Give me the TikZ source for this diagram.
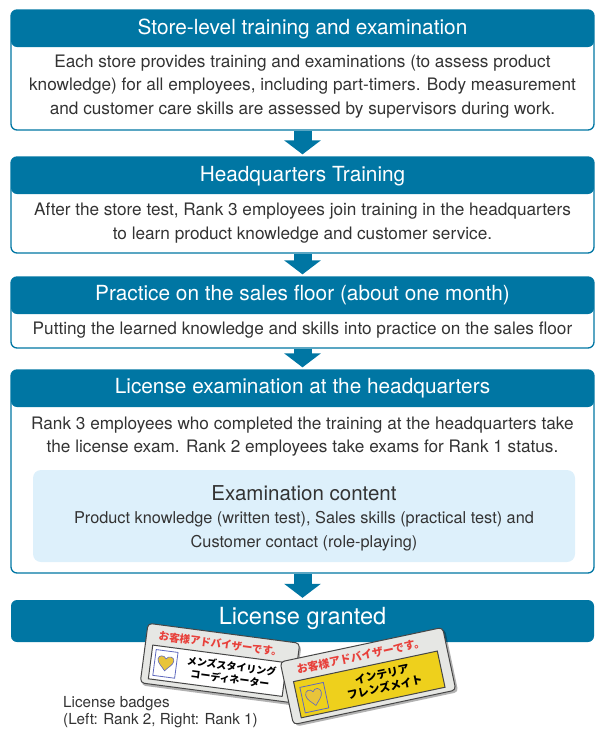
\documentclass[tikz,border=0pt]{standalone}
\usepackage{fontspec}
\setmainfont{TeX Gyre Heros}
\newfontfamily\jpfont{Noto Sans CJK JP}
\usetikzlibrary{arrows.meta}

\definecolor{stepblue}{RGB}{0,118,163}
\definecolor{steptext}{RGB}{51,51,51}
\definecolor{contentbg}{RGB}{221,240,251}
\definecolor{badgegrey}{RGB}{230,231,228}
\definecolor{badgeline}{RGB}{70,70,70}
\definecolor{badgered}{RGB}{232,64,58}
\definecolor{badgeyellow}{RGB}{238,208,28}
\definecolor{heartyellow}{RGB}{232,196,58}
\definecolor{heartblue}{RGB}{95,105,190}

\tikzset{
  stepbox/.style={draw=stepblue, line width=1.3pt, rounded corners=6pt,
    minimum width=583pt, inner sep=0pt,
    path picture={\fill[stepblue] (path picture bounding box.north west)
      rectangle ([yshift=-37pt]path picture bounding box.north east);}},
  steptitle/.style={text=white, font=\fontsize{20.8}{24}\selectfont},
  stepbody/.style={text=steptext, align=center, font=\fontsize{17.2}{23.8}\selectfont},
  contentbox/.style={fill=contentbg, rounded corners=8pt, minimum width=542pt,
    minimum height=92pt, inner sep=0pt},
  flow/.style={line width=18pt, stepblue, -{Triangle[width=36pt,length=14pt]},
    shorten >=2pt},
  badge/.style={fill=badgegrey, draw=badgeline, line width=1pt, rounded corners=4pt},
  badgehead/.style={text=badgered, font=\jpfont\bfseries\fontsize{10.5}{11}\selectfont},
  badgename/.style={text=black, align=center, font=\jpfont\bfseries\fontsize{10}{12.5}\selectfont},
  heart/.style={fill=heartyellow, draw=heartblue, line width=0.6pt}
}

\begin{document}
\begin{tikzpicture}[x=1pt, y=-1pt]
  \useasboundingbox (0,0) rectangle (595,729);

  % step 1
  \node[stepbox, minimum height=120pt] (s1) at (302.5,70) {};
  \node[steptitle] (t1) at (302.5,28.5) {Store-level training and examination};
  \node[stepbody] (d1) at (302.5,86.5) {Each store provides training and examinations (to assess product\\
    knowledge) for all employees, including part-timers. Body measurement\\
    and customer care skills are assessed by supervisors during work.};

  % step 2
  \node[stepbox, minimum height=96pt] (s2) at (302.5,205) {};
  \node[steptitle] (t2) at (302.5,176) {Headquarters Training};
  \node[stepbody] (d2) at (302.5,223) {After the store test, Rank 3 employees join training in the headquarters\\
    to learn product knowledge and customer service.};

  % step 3
  \node[stepbox, minimum height=71pt] (s3) at (302.5,312.5) {};
  \node[steptitle] (t3) at (302.5,295.5) {Practice on the sales floor (about one month)};
  \node[stepbody] (d3) at (302.5,330) {Putting the learned knowledge and skills into practice on the sales floor};

  % step 4
  \node[stepbox, minimum height=203pt] (s4) at (302.5,471.5) {};
  \node[steptitle] (t4) at (302.5,388.5) {License examination at the headquarters};
  \node[stepbody] (d4) at (302.5,436.5) {Rank 3 employees who completed the training at the headquarters take\\
    the license exam. Rank 2 employees take exams for Rank 1 status.};
  \node[contentbox] (c4) at (304,516) {};
  \node[text=steptext, font=\fontsize{20.5}{23}\selectfont] (ct4) at (304,493) {Examination content};
  \node[stepbody, font=\fontsize{16.3}{23.5}\selectfont] (cd4) at (304,531)
    {Product knowledge (written test), Sales skills (practical test) and\\
    Customer contact (role-playing)};

  % result
  \node[fill=stepblue, rounded corners=6pt, minimum width=583pt, minimum height=42pt,
    inner sep=0pt] (s5) at (302.5,621) {};
  \node[text=white, font=\fontsize{23.6}{27}\selectfont] (t5) at (302.5,618) {License granted};

  \draw[flow] (s1.south) -- (s2.north);
  \draw[flow] (s2.south) -- (s3.north);
  \draw[flow] (s3.south) -- (s4.north);
  \draw[flow] (s4.south) -- (s5.north);

  % badges
  \begin{scope}[shift={(220,663)}, rotate=-7.5, transform shape]
    \fill[black, opacity=.3, rounded corners=4pt] (-75,-28) rectangle (78.5,32.5);
    \filldraw[badge] (-76.5,-30) rectangle (76.5,30);
    \node[badgehead] (lb-head) at (-2,-19) {お客様アドバイザーです。};
    \filldraw[fill=white, draw=badgeline, line width=1pt] (-69,-9) rectangle (66,25);
    \draw[heartblue, line width=0.8pt] (-65,-5) rectangle (-43,21);
    \filldraw[heart] (-54,15) .. controls (-57,11) and (-62,8) .. (-62,4)
      .. controls (-62,0) and (-56,-1) .. (-54,3) .. controls (-52,-1) and (-46,0) .. (-46,4)
      .. controls (-46,8) and (-51,11) .. (-54,15) -- cycle;
    \node[badgename] (lb-name) at (12,8) {メンズスタイリング\\コーディネーター};
  \end{scope}

  \begin{scope}[shift={(368,676)}, rotate=12, transform shape]
    \fill[black, opacity=.3, rounded corners=4pt] (-81,-30) rectangle (85,34.5);
    \filldraw[badge] (-83,-32) rectangle (83,32);
    \node[badgehead, font=\jpfont\bfseries\fontsize{11}{12}\selectfont] (rb-head) at (-3,-21) {お客様アドバイザーです。};
    \filldraw[fill=badgeyellow, draw=badgeline, line width=1pt] (-74,-10) rectangle (73,27);
    \draw[heartblue, line width=0.8pt] (-69,-3) rectangle (-45,23);
    \filldraw[heart] (-57,18) .. controls (-60,14) and (-65,11) .. (-65,6)
      .. controls (-65,1) and (-59,0) .. (-57,4) .. controls (-55,0) and (-49,1) .. (-49,6)
      .. controls (-49,11) and (-54,14) .. (-57,18) -- cycle;
    \node[badgename, font=\jpfont\bfseries\fontsize{11}{13.5}\selectfont] (rb-name) at (14,8) {インテリア\\フレンズメイト};
  \end{scope}

  \node[text=steptext, align=left, anchor=west, inner sep=0pt, font=\fontsize{15.2}{17}\selectfont]
    (cap) at (63,712.5) {License badges\\(Left: Rank 2, Right: Rank 1)};
\end{tikzpicture}
\end{document}
